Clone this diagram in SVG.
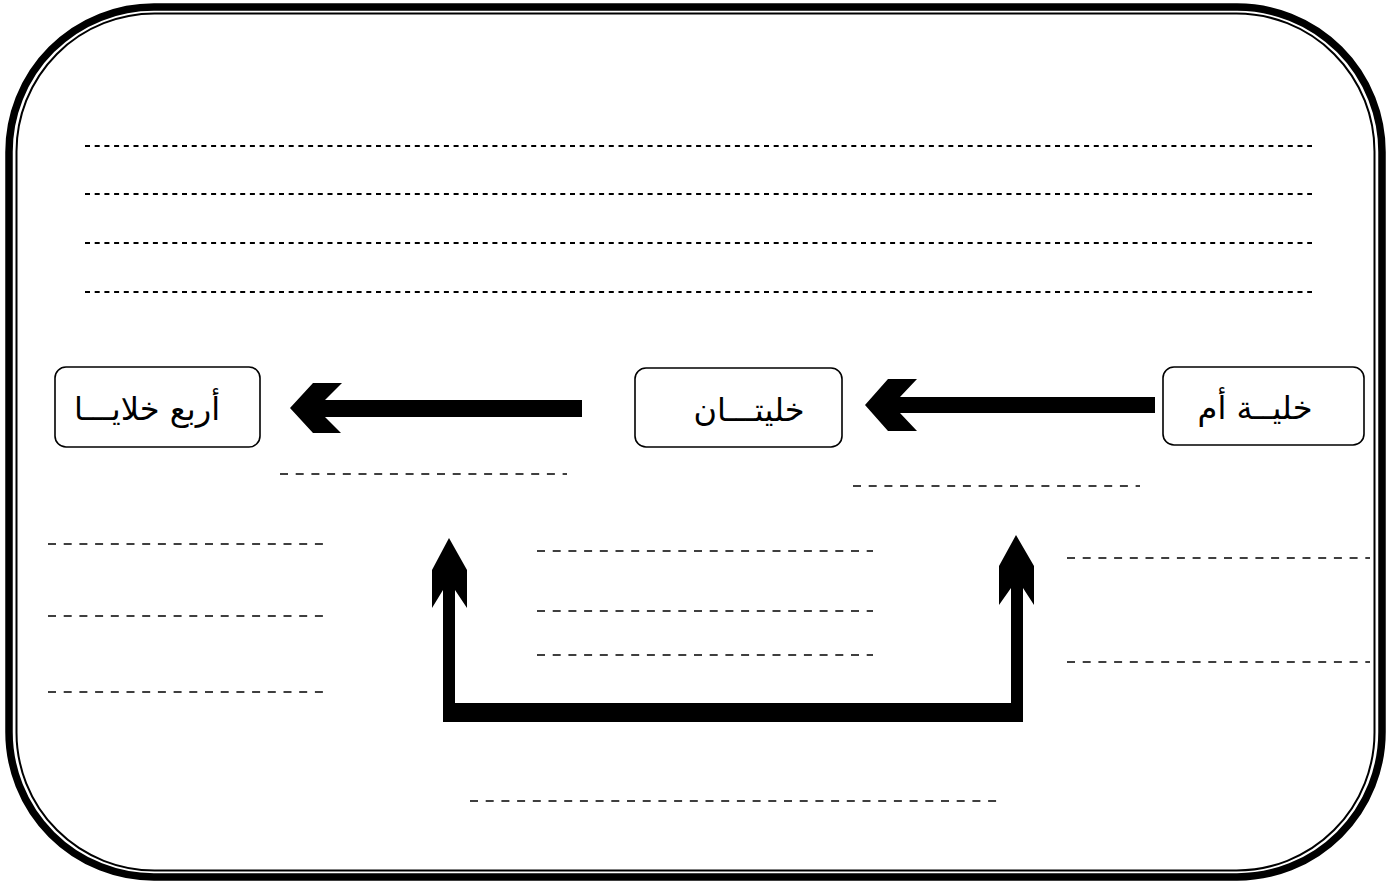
<svg xmlns="http://www.w3.org/2000/svg" width="1394" height="884" viewBox="0 0 1394 884">
<style>
.frame-outer{fill:none;stroke:#000;stroke-width:7.5}
.frame-inner{fill:none;stroke:#000;stroke-width:2}
.box{fill:#fff;stroke:#000;stroke-width:1.6}
.lbl{font-family:"DejaVu Sans","Noto Sans",sans-serif;font-size:32px;fill:#000;text-anchor:middle}
.d1{stroke:#000;stroke-width:2;stroke-dasharray:5 4.7;fill:none}
.d2{stroke:#000;stroke-width:1.4;stroke-dasharray:8 7.7;fill:none}
.arrow{fill:#000;stroke:none}
</style>
<rect width="1394" height="884" fill="#fff"/>
<g id="frame">
<rect class="frame-outer" x="9" y="7" width="1373" height="870" rx="145" ry="145"/>
<rect class="frame-inner" x="16.5" y="13.5" width="1358" height="857" rx="138" ry="138"/>
</g>
<g id="lines">
<line class="d1" x1="85" y1="146" x2="1312" y2="146"/>
<line class="d1" x1="85" y1="194" x2="1312" y2="194"/>
<line class="d1" x1="85" y1="243" x2="1312" y2="243"/>
<line class="d1" x1="85" y1="292" x2="1312" y2="292"/>
<line class="d2" x1="280" y1="474" x2="567" y2="474"/>
<line class="d2" x1="853" y1="486" x2="1140" y2="486"/>
<line class="d2" x1="48" y1="544" x2="328" y2="544"/>
<line class="d2" x1="537" y1="551" x2="873" y2="551"/>
<line class="d2" x1="1067" y1="558" x2="1370" y2="558"/>
<line class="d2" x1="48" y1="616" x2="328" y2="616"/>
<line class="d2" x1="537" y1="611" x2="873" y2="611"/>
<line class="d2" x1="537" y1="655" x2="873" y2="655"/>
<line class="d2" x1="1067" y1="662" x2="1370" y2="662"/>
<line class="d2" x1="48" y1="692" x2="328" y2="692"/>
<line class="d2" x1="470" y1="801" x2="1000" y2="801"/>
</g>
<g id="connectors">
<polygon class="arrow" points="865,405 888,379 917,379 900,397 1155,397 1155,413 900,413 917,431 888,431"/>
<polygon class="arrow" points="290,408 313,383 342,383 325,400 582,400 582,417 325,417 341,433 313,433"/>
<polygon class="arrow" points="449,538 467,570 467,608 455,590 455,703 1011,703 1011,588 999,605 999,566 1016,535 1034,566 1034,605 1023,588 1023,722 443,722 443,590 432,608 432,570"/>
</g>
<g id="node-mother">
<rect class="box" x="1163" y="367" width="201" height="78" rx="11"/>
<text class="lbl" x="1255" y="419">خليــة أم</text>
</g>
<g id="node-two">
<rect class="box" x="635" y="368" width="207" height="79" rx="11"/>
<text class="lbl" x="749" y="421">خليتـــان</text>
</g>
<g id="node-four">
<rect class="box" x="55" y="367" width="205" height="80" rx="11"/>
<text class="lbl" x="147" y="420">أربع خلايـــا</text>
</g>
</svg>
